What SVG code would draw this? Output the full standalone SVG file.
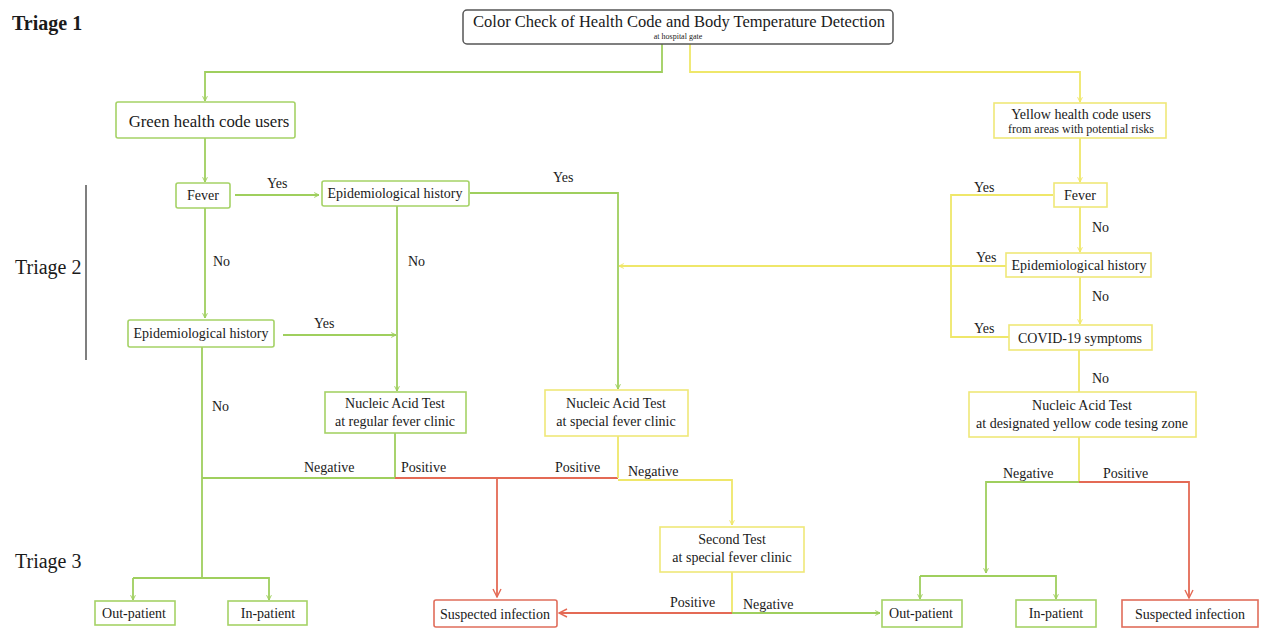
<svg xmlns="http://www.w3.org/2000/svg" width="1262" height="628" viewBox="0 0 1262 628">
<defs>
<style>
text{font-family:"Liberation Serif","Times New Roman",serif;fill:#1a1a1a;}
.t{font-size:14px;text-anchor:middle;}
.lb{font-size:14px;}
.tri{font-size:20px;}
.g{stroke:#9fcf5e;stroke-width:1.8;fill:none;}
.y{stroke:#efe76a;stroke-width:1.8;fill:none;}
.r{stroke:#e46a55;stroke-width:1.8;fill:none;}
.ng{fill:#fff;stroke:#a5d266;stroke-width:1.6;}
.ny{fill:#fff;stroke:#efe878;stroke-width:1.6;}
.nr{fill:#fff;stroke:#e06d5b;stroke-width:1.6;}
.ga{marker-end:url(#ag);}
.ya{marker-end:url(#ay);}
.ra{marker-end:url(#ar);}
</style>
<marker id="ag" viewBox="0 0 10 10" refX="9" refY="5" markerWidth="6" markerHeight="6" orient="auto" markerUnits="userSpaceOnUse"><path d="M1,1 L9,5 L1,9" fill="none" stroke="#9fcf5e" stroke-width="1.6"/></marker>
<marker id="ay" viewBox="0 0 10 10" refX="9" refY="5" markerWidth="6" markerHeight="6" orient="auto" markerUnits="userSpaceOnUse"><path d="M1,1 L9,5 L1,9" fill="none" stroke="#efe76a" stroke-width="1.6"/></marker>
<marker id="ar" viewBox="0 0 10 10" refX="9" refY="5" markerWidth="10" markerHeight="10" orient="auto" markerUnits="userSpaceOnUse"><path d="M1,1 L9,5 L1,9" fill="none" stroke="#e46a55" stroke-width="1.4"/></marker>
</defs>
<rect width="1262" height="628" fill="#fff"/>

<g id="triage-labels">
<text class="tri" x="12" y="30" font-weight="bold">Triage 1</text>
<text class="tri" x="15" y="274">Triage 2</text>
<text class="tri" x="15" y="568">Triage 3</text>
<line x1="86" y1="185" x2="86" y2="360" stroke="#555" stroke-width="1.5"/>
</g>

<g id="connectors">
<path class="g ga" d="M662,44 V72 H205 V101"/>
<path class="y ya" d="M690,44 V72 H1080 V102"/>
<path class="g ga" d="M205,138 V182"/>
<path class="g ga" d="M235,195 H319"/>
<path class="g ga" d="M470,193 H618 V389"/>
<path class="g ga" d="M397,206 V391"/>
<path class="g ga" d="M205,208 V318"/>
<path class="g ga" d="M283,335 H396"/>
<path class="g" d="M202,347 V578"/>
<path class="g" d="M395,433 V478 H202"/>
<path class="r" d="M395,478 H618"/>
<path class="r ra" d="M497,478 V597"/>
<path class="y" d="M618,436 V478"/>
<path class="y ya" d="M618,480 H732 V525"/>
<path class="g ga" d="M133,578 H269 V600"/>
<path class="g ga" d="M133,578 V600"/>
<path class="y" d="M732,572 V613"/>
<path class="r ra" d="M732,613 H559"/>
<path class="g ga" d="M732,613 H880"/>
<path class="y ya" d="M1080,138 V182"/>
<path class="y" d="M1053,195 H951 V337 H1009"/>
<path class="y" d="M1006,266 H951"/>
<path class="y ya" d="M951,266 H619"/>
<path class="y ya" d="M1080,207 V252"/>
<path class="y ya" d="M1080,277 V324"/>
<path class="y" d="M1079,350 V392"/>
<path class="y" d="M1079,437 V482"/>
<path class="g ga" d="M1079,482 H986 V573"/>
<path class="r ra" d="M1079,482 H1189 V598"/>
<path class="g ga" d="M920,576 H1056 V599"/>
<path class="g ga" d="M920,576 V599"/>
</g>

<g id="connector-labels">
<text class="lb" x="267" y="188">Yes</text>
<text class="lb" x="553" y="182">Yes</text>
<text class="lb" x="213" y="266">No</text>
<text class="lb" x="408" y="266">No</text>
<text class="lb" x="314" y="328">Yes</text>
<text class="lb" x="212" y="411">No</text>
<text class="lb" x="304" y="472">Negative</text>
<text class="lb" x="401" y="472">Positive</text>
<text class="lb" x="555" y="472">Positive</text>
<text class="lb" x="628" y="476">Negative</text>
<text class="lb" x="670" y="607">Positive</text>
<text class="lb" x="743" y="609">Negative</text>
<text class="lb" x="974" y="192">Yes</text>
<text class="lb" x="976" y="262">Yes</text>
<text class="lb" x="974" y="333">Yes</text>
<text class="lb" x="1092" y="232">No</text>
<text class="lb" x="1092" y="301">No</text>
<text class="lb" x="1092" y="383">No</text>
<text class="lb" x="1003" y="478">Negative</text>
<text class="lb" x="1103" y="478">Positive</text>
</g>

<g id="n-top">
<rect x="463" y="10" width="430" height="34" rx="4" fill="#fff" stroke="#555" stroke-width="1.5"/>
<text x="679" y="27" font-size="16.5" text-anchor="middle">Color Check of Health Code and Body Temperature Detection</text>
<text x="678" y="39" font-size="8" text-anchor="middle">at hospital gate</text>
</g>
<g id="n-green">
<rect class="ng" x="116" y="102" width="179" height="36" rx="2"/>
<text x="209" y="127" font-size="16.8" text-anchor="middle">Green health code users</text>
</g>
<g id="n-yellow">
<rect class="ny" x="994" y="103" width="172" height="35"/>
<text x="1081" y="119" font-size="14" text-anchor="middle">Yellow health code users</text>
<text x="1081" y="133" font-size="12" text-anchor="middle">from areas with potential risks</text>
</g>
<g id="n-fever1">
<rect class="ng" x="176" y="183" width="54" height="25" rx="2"/>
<text class="t" x="203" y="200">Fever</text>
</g>
<g id="n-epi1">
<rect class="ng" x="322" y="181" width="147" height="25" rx="2"/>
<text class="t" x="395" y="198">Epidemiological history</text>
</g>
<g id="n-epi2">
<rect class="ng" x="128" y="320" width="146" height="27" rx="2"/>
<text class="t" x="201" y="338">Epidemiological history</text>
</g>
<g id="n-nat-regular">
<rect class="ng" x="325" y="392" width="141" height="41"/>
<text class="t" x="395" y="408">Nucleic Acid Test</text>
<text class="t" x="395" y="426">at regular fever clinic</text>
</g>
<g id="n-nat-special">
<rect class="ny" x="545" y="390" width="143" height="46"/>
<text class="t" x="616" y="408">Nucleic Acid Test</text>
<text class="t" x="616" y="426">at special fever clinic</text>
</g>
<g id="n-second">
<rect class="ny" x="660" y="527" width="144" height="45"/>
<text class="t" x="732" y="544">Second Test</text>
<text class="t" x="732" y="562">at special fever clinic</text>
</g>
<g id="n-out1">
<rect class="ng" x="95" y="601" width="80" height="24"/>
<text class="t" x="134" y="618" font-size="15">Out-patient</text>
</g>
<g id="n-in1">
<rect class="ng" x="228" y="601" width="79" height="24"/>
<text class="t" x="268" y="618" font-size="15">In-patient</text>
</g>
<g id="n-susp1">
<rect class="nr" x="434" y="600" width="123" height="27" rx="2"/>
<text class="t" x="495" y="619">Suspected infection</text>
</g>
<g id="n-fever2">
<rect class="ny" x="1054" y="183" width="53" height="24"/>
<text class="t" x="1080" y="200">Fever</text>
</g>
<g id="n-epi3">
<rect class="ny" x="1006" y="253" width="145" height="24"/>
<text class="t" x="1079" y="270">Epidemiological history</text>
</g>
<g id="n-covid">
<rect class="ny" x="1009" y="325" width="143" height="25"/>
<text class="t" x="1080" y="343">COVID-19 symptoms</text>
</g>
<g id="n-nat-yellow">
<rect class="ny" x="969" y="392" width="227" height="45"/>
<text class="t" x="1082" y="410">Nucleic Acid Test</text>
<text class="t" x="1082" y="428">at designated yellow code tesing zone</text>
</g>
<g id="n-out2">
<rect class="ng" x="882" y="600" width="80" height="27"/>
<text class="t" x="921" y="618" font-size="15">Out-patient</text>
</g>
<g id="n-in2">
<rect class="ng" x="1016" y="600" width="80" height="27"/>
<text class="t" x="1056" y="618" font-size="15">In-patient</text>
</g>
<g id="n-susp2">
<rect class="nr" x="1122" y="600" width="136" height="27"/>
<text class="t" x="1190" y="619">Suspected infection</text>
</g>
</svg>
